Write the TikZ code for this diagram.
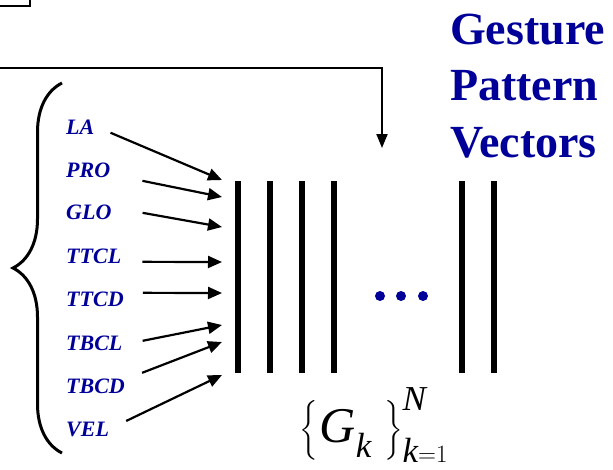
\documentclass[tikz,border=0pt]{standalone}
\usepackage{amsmath}
\usepackage{fontspec}
\setmainfont{Liberation Serif}
\usetikzlibrary{arrows.meta,decorations.pathreplacing,positioning}
\definecolor{FeatBlue}{HTML}{000099}

\begin{document}
\begin{tikzpicture}[x=1pt,y=-1pt,
    feat/.style={FeatBlue,font=\fontsize{22}{24}\selectfont\bfseries\itshape,anchor=base west,inner sep=0pt},
    feed/.style={-{Triangle[length=14pt,width=12pt]},line width=2.2pt},
    bar/.style={line width=6pt}]
  \useasboundingbox (0,0) rectangle (613,469);
  \clip (0,0) rectangle (613,469);
  % box cut by the page edge
  \draw[line width=2pt] (-40,-20) rectangle (30,6);
  % line coming down into the vectors
  \coordinate (topL) at (-5,68);
  \coordinate (topC) at (382,68);
  \coordinate (topT) at (382,148);
  \draw[-{Triangle[length=14pt,width=11pt]},line width=2pt] (topL) -- (topC) -- (topT);
  % feature names
  \node[feat] (la)   at (66,134) {LA};
  \node[feat] (pro)  at (66,177) {PRO};
  \node[feat] (glo)  at (66,219) {GLO};
  \node[feat] (ttcl) at (66,263) {TTCL};
  \node[feat] (ttcd) at (66,306) {TTCD};
  \node[feat] (tbcl) at (66,350) {TBCL};
  \node[feat] (tbcd) at (66,393) {TBCD};
  \node[feat] (vel)  at (66,436) {VEL};
  \draw[line width=3pt,decorate,decoration={brace,amplitude=49pt}] (62,453) -- (62,83);
  % arrows into the first vector
  \foreach \name/\ty in {la/180,pro/197,glo/227,ttcl/262,ttcd/293,tbcl/325,tbcd/342,vel/375}
    \coordinate (\name-in) at (222,\ty);
  \foreach \name/\dx/\dy in {la/16/-6,pro/32/-11,glo/31/-1,ttcl/21/-6,ttcd/19/6,tbcl/20/2,tbcd/17/13,vel/17/8}
    \draw[feed] ([xshift=\dx,yshift=\dy]\name.east) -- (\name-in);
  % pattern vectors
  \foreach \x in {238,270,302,334,462,494}
    \draw[bar] (\x,181) -- (\x,373);
  \foreach \x in {380,401,423}
    \fill[FeatBlue] (\x,296) circle (5);
  \node[FeatBlue,font=\fontsize{46}{56.5}\selectfont\bfseries,align=left,anchor=base west,inner sep=0pt] (title) at (450,157) {Gesture\\Pattern\\Vectors};
  \node[font=\fontsize{50}{60}\selectfont,anchor=base west,inner sep=0pt] (gset) at (299,437)
    {$\left\{\vcenter{\hbox{\rule{0pt}{60pt}}}\hspace{2pt}\raisebox{-5pt}{$\mathit{G}_{\mathit{k}}$}\hspace{12pt}\right\}_{\mathit{k}\mathrm{=}1}^{\mathit{N}}$};
\end{tikzpicture}
\end{document}
